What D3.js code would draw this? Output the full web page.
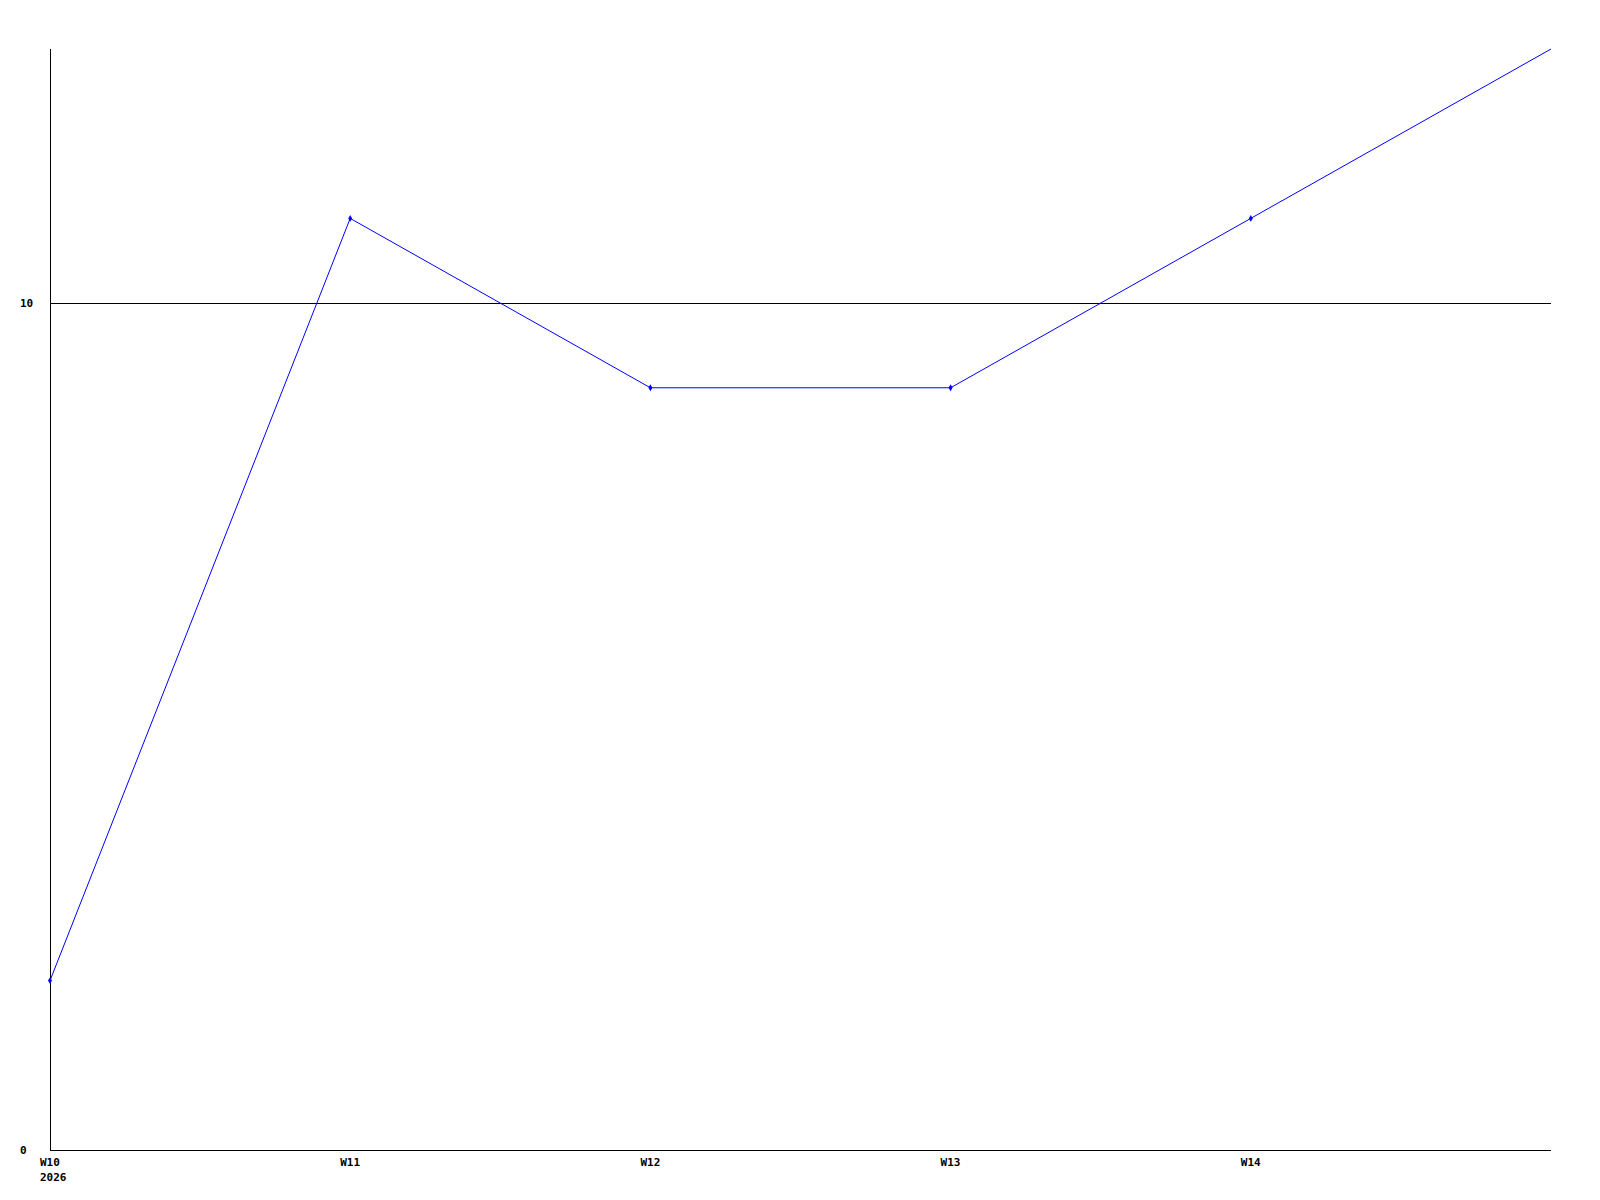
<!DOCTYPE html>
<html>
<head>
<meta charset="utf-8">
<script src="https://cdn.jsdelivr.net/npm/d3@7"></script>
<style>
  body { margin: 0; background: #fff; }
  svg text { font-family: "DejaVu Sans Mono", monospace; font-size: 11px; font-weight: bold; fill: #000; }
</style>
</head>
<body>
<svg id="chart" width="1600" height="1200"></svg>
<script>
// weeks and values
const weeks = [10, 11, 12, 13, 14, 15];
const values = [2, 11, 9, 9, 11, 13];
const weekTicks = [10, 11, 12, 13, 14];
const yTicks = [0, 10];
const yearLabel = "2026";

const svg = d3.select('#chart');

const plotLeft = 50, plotRight = 1551, plotTop = 49, plotBottom = 1150;

const x = d3.scaleLinear().domain([10, 15]).range([plotLeft, plotRight]);
const y = d3.scaleLinear().domain([0, 13]).range([plotBottom, plotTop]);

// axis lines
svg.append('line')
    .attr('x1', plotLeft + 0.5).attr('x2', plotLeft + 0.5)
    .attr('y1', plotTop).attr('y2', plotBottom)
    .attr('stroke', '#000').attr('shape-rendering', 'crispEdges');
svg.append('line')
    .attr('x1', plotLeft).attr('x2', plotRight)
    .attr('y1', plotBottom + 0.5).attr('y2', plotBottom + 0.5)
    .attr('stroke', '#000').attr('shape-rendering', 'crispEdges');

// horizontal grid lines (skip 0, it is the axis)
svg.selectAll('.grid')
    .data(yTicks.filter(d => d > 0))
    .enter()
    .append('line')
    .attr('class', 'grid')
    .attr('x1', plotLeft).attr('x2', plotRight)
    .attr('y1', d => Math.floor(y(d)) + 0.5)
    .attr('y2', d => Math.floor(y(d)) + 0.5)
    .attr('stroke', '#000').attr('shape-rendering', 'crispEdges');

// y labels
svg.selectAll('.ylab')
    .data(yTicks)
    .enter()
    .append('text')
    .attr('x', 20)
    .attr('y', d => y(d) + 4)
    .text(d => d);

// x labels
svg.selectAll('.xlab')
    .data(weekTicks)
    .enter()
    .append('text')
    .attr('x', d => x(d) - 10)
    .attr('y', plotBottom + 16)
    .text(d => 'W' + d);

svg.append('text')
    .attr('x', x(weekTicks[0]) - 10)
    .attr('y', plotBottom + 31)
    .text(yearLabel);

const pts = weeks.map((w, i) => ({ w, v: values[i] }));

svg.append('path')
    .datum(pts)
    .attr('fill', 'none')
    .attr('stroke', '#0000ff')
    .attr('stroke-width', 1)
    .attr('d', d3.line().x(d => x(d.w)).y(d => y(d.v)));

// markers only for points inside the plot
svg.selectAll('.pt')
    .data(pts.filter(d => d.w < 15))
    .enter()
    .append('path')
    .attr('transform', d => `translate(${x(d.w)},${y(d.v)})`)
    .attr('d', d3.symbol(d3.symbolDiamond, 14))
    .attr('fill', '#0000ff');
</script>
</body>
</html>
